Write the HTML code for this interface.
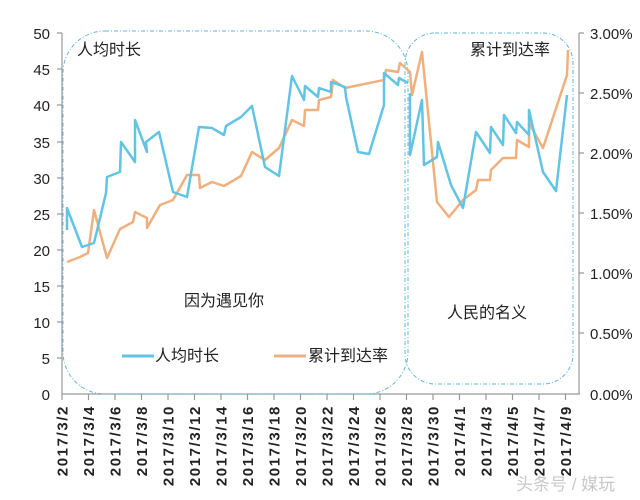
<!DOCTYPE html>
<html><head><meta charset="utf-8"><style>
body{margin:0;background:#fff;}
svg{display:block;font-family:"Liberation Sans","Noto Sans CJK SC",sans-serif;}
</style></head><body>
<svg width="640" height="500" viewBox="0 0 640 500">
<rect width="640" height="500" fill="#fff"/>
<g stroke="#9a9a9a" stroke-width="1.2" fill="none">
<line x1="62" y1="33" x2="62" y2="394"/>
<line x1="62" y1="394" x2="580" y2="394"/>
<line x1="579" y1="33" x2="579" y2="394"/>
<path d="M57 33H62M57 69H62M57 105H62M57 142H62M57 178H62M57 214H62M57 250H62M57 286H62M57 322H62M57 358H62"/>
<path d="M579 33H584M579 93H584M579 153H584M579 213H584M579 273H584M579 333H584"/>
<path d="M62 394V400M88.5 394V400M115 394V400M141.5 394V400M168 394V400M194.5 394V400M221 394V400M247.5 394V400M274 394V400M300.5 394V400M327 394V400M353.5 394V400M380 394V400M406.5 394V400M433 394V400M459.5 394V400M486 394V400M512.5 394V400M539 394V400M565.5 394V400"/>
</g>
<g font-size="15" fill="#222" text-anchor="end">
<text x="50" y="39">50</text><text x="50" y="75">45</text><text x="50" y="111">40</text><text x="50" y="148">35</text><text x="50" y="184">30</text><text x="50" y="220">25</text><text x="50" y="256">20</text><text x="50" y="292">15</text><text x="50" y="328">10</text><text x="50" y="364">5</text><text x="50" y="400">0</text>
</g>
<g font-size="15" fill="#222">
<text x="590" y="39">3.00%</text><text x="590" y="99">2.50%</text><text x="590" y="159">2.00%</text><text x="590" y="219">1.50%</text><text x="590" y="279">1.00%</text><text x="590" y="339">0.50%</text><text x="590" y="400">0.00%</text>
</g>
<g font-size="15" font-weight="bold" fill="#222" text-anchor="end" letter-spacing="1.6">
<text transform="translate(67.5,405) rotate(-90)">2017/3/2</text>
<text transform="translate(94,405) rotate(-90)">2017/3/4</text>
<text transform="translate(120.5,405) rotate(-90)">2017/3/6</text>
<text transform="translate(147,405) rotate(-90)">2017/3/8</text>
<text transform="translate(173.5,405) rotate(-90)">2017/3/10</text>
<text transform="translate(200,405) rotate(-90)">2017/3/12</text>
<text transform="translate(226.5,405) rotate(-90)">2017/3/14</text>
<text transform="translate(253,405) rotate(-90)">2017/3/16</text>
<text transform="translate(279.5,405) rotate(-90)">2017/3/18</text>
<text transform="translate(306,405) rotate(-90)">2017/3/20</text>
<text transform="translate(332.5,405) rotate(-90)">2017/3/22</text>
<text transform="translate(359,405) rotate(-90)">2017/3/24</text>
<text transform="translate(385.5,405) rotate(-90)">2017/3/26</text>
<text transform="translate(412,405) rotate(-90)">2017/3/28</text>
<text transform="translate(438.5,405) rotate(-90)">2017/3/30</text>
<text transform="translate(465,405) rotate(-90)">2017/4/1</text>
<text transform="translate(491.5,405) rotate(-90)">2017/4/3</text>
<text transform="translate(518,405) rotate(-90)">2017/4/5</text>
<text transform="translate(544.5,405) rotate(-90)">2017/4/7</text>
<text transform="translate(571,405) rotate(-90)">2017/4/9</text>
</g>
<g fill="none" stroke="#5fb8d8" stroke-width="1" stroke-dasharray="4,2,1,2">
<rect x="63" y="31" width="345" height="363" rx="42" ry="42"/>
<rect x="405" y="33" width="168" height="351" rx="30" ry="30"/>
</g>
<polyline fill="none" stroke="#f0b07e" stroke-width="2.5" stroke-linejoin="round" points="67,262 80,257 88,253 94,210 107,258 120,229 133,222 135,212 147,218 147,228 160,205 173,200 187,175 199,175 200,188 212,182 224,186 241,176 252,152 265,160 279,148 292,120 304,126 305,110 318,110 319,100 331,97 333,80 345,88 384,80 386,70 398,72 400,63 410,72 412,95 422,52 437,202 449,217 463,200 476,190 478,180 490,180 491,170 503,158 516,158 517,140 529,147 529,123 543,148 567,75 568,50"/>
<polyline fill="none" stroke="#62c4e4" stroke-width="2.5" stroke-linejoin="round" points="67,230 67,208 82,247 94,243 106,193 107,177 120,172 121,142 135,162 135,120 147,152 146,142 159,132 173,192 187,197 199,127 212,128 224,135 226,126 241,117 252,106 265,167 279,176 292,76 304,100 305,86 318,97 319,88 331,92 331,82 345,87 346,97 358,152 369,154 384,105 384,73 398,85 399,78 408,83"/>
<polyline fill="none" stroke="#62c4e4" stroke-width="2.5" stroke-linejoin="round" points="410,93 410,155 422,100 424,165 437,157 438,142 451,185 463,208 476,132 490,153 491,127 503,145 504,115 516,133 517,122 529,135 529,110 543,172 556,191 567,95"/>
<g font-size="16" fill="#222">
<text x="77" y="55">人均时长</text>
<text x="470" y="55">累计到达率</text>
<text x="184" y="306">因为遇见你</text>
<text x="447" y="318">人民的名义</text>
<text x="155" y="361">人均时长</text>
<text x="308" y="361">累计到达率</text>
</g>
<line x1="122" y1="356" x2="154" y2="356" stroke="#62c4e4" stroke-width="3"/>
<line x1="274" y1="356" x2="306" y2="356" stroke="#f0b07e" stroke-width="3"/>
<text x="516" y="490" font-size="17" fill="#bbb" opacity="0.8">头条号 / 媒玩</text>
</svg>
</body></html>
